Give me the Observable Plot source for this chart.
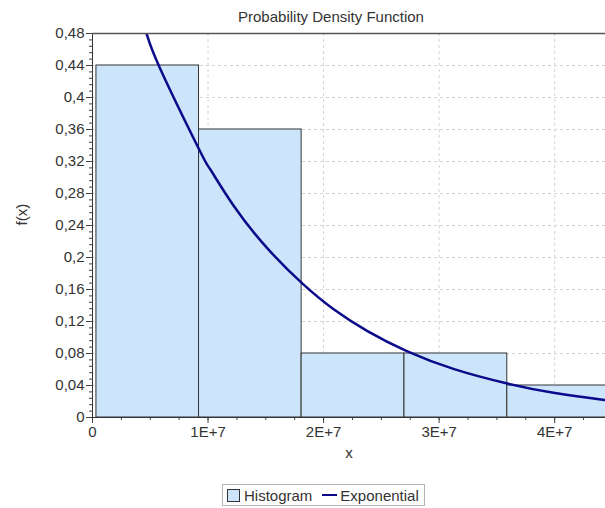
<!DOCTYPE html>
<html><head><meta charset="utf-8">
<script src="https://cdn.jsdelivr.net/npm/d3@7"></script>
<script src="https://cdn.jsdelivr.net/npm/@observablehq/plot@0.6"></script>
<style>
body{margin:0;background:#fff;font-family:"Liberation Sans",Arial,sans-serif;}
#wrap{position:relative;width:605px;height:508px;overflow:hidden;}
#title{position:absolute;top:7px;left:0;width:662px;text-align:center;font-size:15px;line-height:20px;color:#333;z-index:2;}
#chart{position:absolute;top:10px;left:0;z-index:1;}
#legend{position:absolute;top:484px;left:222px;height:22px;box-sizing:border-box;border:1px solid #b4b4b4;display:flex;align-items:center;padding:0 5px 0 4px;font-size:15px;color:#333;white-space:nowrap;}
.sw{display:inline-block;width:11px;height:11px;background:#cde5fb;border:1px solid #333;margin-right:4px;}
.ln{display:inline-block;width:15px;height:0;border-top:2.5px solid #0a0a8a;margin:0 3px 0 10px;}
</style></head>
<body>
<div id="wrap">
<div id="title">Probability Density Function</div>
<div id="chart"></div>
<div id="legend"><span class="sw"></span>Histogram<span class="ln"></span>Exponential</div>
</div>
<script>
// Histogram bins (x in units, height = f(x))
const binStart  = [3.4e5, 9.22e6, 1.81e7, 2.70e7, 3.59e7];
const binEnd    = [9.22e6, 1.81e7, 2.70e7, 3.59e7, 4.47e7];
const binHeight = [0.44, 0.36, 0.08, 0.08, 0.04];

// Exponential fit curve
const curveX = [4.0e6, 4.68e6, 5.83e6, 9.2e6, 1.02e7, 1.22e7, 1.51e7, 1.82e7, 2.09e7, 2.38e7, 2.72e7, 3.13e7, 3.59e7, 3.99e7, 4.43e7, 4.47e7];
const curveY = [0.505, 0.48, 0.437, 0.336, 0.31, 0.265, 0.212, 0.167, 0.135, 0.108, 0.083, 0.0605, 0.0425, 0.031, 0.022, 0.0215];

// Ticks
const xTicks = [0, 1e7, 2e7, 3e7, 4e7];
const xTickLabels = ["0", "1E+7", "2E+7", "3E+7", "4E+7"];
const yTicks = [0, 0.04, 0.08, 0.12, 0.16, 0.2, 0.24, 0.28, 0.32, 0.36, 0.4, 0.44, 0.48];
const yTickLabels = ["0", "0,04", "0,08", "0,12", "0,16", "0,2", "0,24", "0,28", "0,32", "0,36", "0,4", "0,44", "0,48"];
const xMinor = d3.range(0, 4.45e7, 2.5e6);
const yMinor = d3.range(0, 0.4801, 0.008);

const bins = binStart.map((s, i) => ({x1: s, x2: binEnd[i], h: binHeight[i]}));
const curve = curveX.map((x, i) => ({x, y: curveY[i]}));

const font = '"Liberation Sans", Arial, sans-serif';
const chart = Plot.plot({
  width: 605, height: 460,
  marginLeft: 92, marginRight: 0, marginTop: 23, marginBottom: 53,
  x: {domain: [0, 4.44e7]},
  y: {domain: [0, 0.48]},
  style: {fontFamily: font, fontSize: "15px", color: "#333", background: "transparent"},
  marks: [
    Plot.gridY(yTicks.slice(1), {stroke: "#d4d4d4", strokeOpacity: 1, strokeDasharray: "3,3"}),
    Plot.gridX(xTicks.slice(1), {stroke: "#d4d4d4", strokeOpacity: 1, strokeDasharray: "3,3"}),
    Plot.rect(bins, {x1: "x1", x2: "x2", y1: 0, y2: "h", fill: "#cde5fb", stroke: "#333", strokeWidth: 1, clip: true}),
    Plot.line(curve, {x: "x", y: "y", stroke: "#0a0a8a", strokeWidth: 2.5, curve: "natural", clip: true}),
    Plot.axisY(yMinor, {tickSize: 3, tickFormat: () => "", label: null, stroke: "#444"}),
    Plot.axisX(xMinor, {tickSize: 3, tickFormat: () => "", label: null, stroke: "#444"}),
    Plot.axisY(yTicks, {tickSize: 6, tickPadding: 2, tickFormat: d => yTickLabels[yTicks.indexOf(d)], label: null, stroke: "#444", fontSize: 15}),
    Plot.axisX(xTicks, {tickSize: 6, tickPadding: 3, tickFormat: d => xTickLabels[xTicks.indexOf(d)], label: null, stroke: "#444", fontSize: 15}),
    Plot.ruleX([0], {stroke: "#333"}),
    Plot.ruleY([0], {stroke: "#333"}),
    Plot.ruleY([0.48], {stroke: "#555", strokeWidth: 1.5}),
    Plot.text(["x"], {text: d => d, frameAnchor: "bottom", dy: 40, fontSize: 15, fill: "#333"}),
    Plot.text(["f(x)"], {text: d => d, frameAnchor: "left", dx: -70, rotate: -90, fontSize: 15, fill: "#333"})
  ]
});
document.getElementById("chart").appendChild(chart);
</script>
</body></html>
